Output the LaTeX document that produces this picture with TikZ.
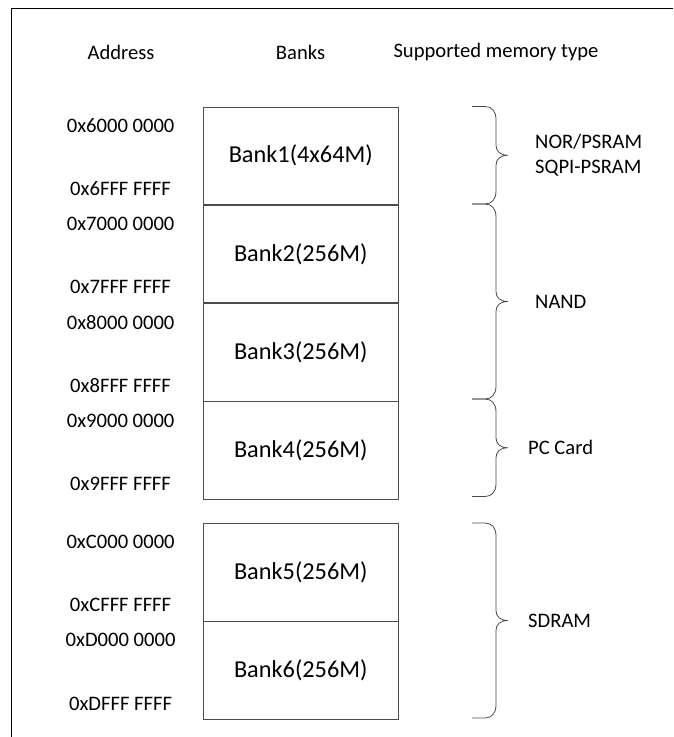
\documentclass[tikz,border=0pt]{standalone}
\usepackage{fontspec}
\setmainfont{Carlito}
\usetikzlibrary{positioning}

\tikzset{
    bank/.style={draw=black!70, line width=0.8pt, minimum width=194.5pt, minimum height=97.5pt,
        inner sep=0pt, font=\fontsize{24.3}{29}\selectfont},
    addr/.style={inner sep=0pt, font=\fontsize{20.6}{25}\selectfont},
    head/.style={inner sep=0pt, font=\fontsize{20.6}{25}\selectfont},
    memtype/.style={inner sep=0pt, align=left, font=\fontsize{20.6}{25}\selectfont},
    brace line/.style={draw=black!70, line width=0.8pt},
}

% curly brace from y=#1 (top) to y=#2 (bottom), tip named #3
\newcommand{\memBrace}[3]{%
    \pgfmathsetmacro{\bmid}{(#1+#2)/2}
    \draw[brace line] (472,#1) -- (485,#1) .. controls (492,#1) and (496,#1-5) .. (496,#1-13)
        -- (496,\bmid+10) .. controls (496,\bmid+4) and (500,\bmid) .. (508,\bmid)
        .. controls (500,\bmid) and (496,\bmid-4) .. (496,\bmid-10)
        -- (496,#2+13) .. controls (496,#2+5) and (492,#2) .. (485,#2) -- (472,#2);
    \coordinate (#3) at (508,\bmid);
}

\begin{document}
\begin{tikzpicture}[x=1pt, y=1pt]
    \useasboundingbox (0,0) rectangle (673,-737);

    % Frame
    \draw[line width=1pt] (673,-8.5) -- (11,-8.5) -- (11,-737);

    % Column titles
    \node[head] (hAddr) at (121,-52) {Address};
    \node[head] (hBanks) at (300.5,-52) {Banks};
    \node[head] (hType) at (496,-52) {Supported memory type};

    % Banks
    \node[bank, anchor=north] (b1) at (300.75,-106.5) {Bank1(4x64M)};
    \node[bank, below=0pt of b1] (b2) {Bank2(256M)};
    \node[bank, below=0pt of b2] (b3) {Bank3(256M)};
    \node[bank, below=0pt of b3] (b4) {Bank4(256M)};
    \node[bank, anchor=north] (b5) at (300.75,-523) {Bank5(256M)};
    \node[bank, below=0pt of b5] (b6) {Bank6(256M)};

    % Start and end addresses
    \foreach \b/\s in {b1/6, b2/7, b3/8, b4/9, b5/C, b6/D} {
        \node[addr] (\b-start) at ([xshift=-82.5pt, yshift=-19pt]\b.north west) {0x\s000 0000};
        \node[addr] (\b-end) at ([xshift=-82.5pt, yshift=16pt]\b.south west) {0x\s{}FFF FFFF};
    }

    % Memory types
    \memBrace{-106.5}{-204}{tNor}
    \memBrace{-204}{-399}{tNand}
    \memBrace{-399}{-496.5}{tPc}
    \memBrace{-523}{-718}{tSdram}

    \node[memtype, right=27pt of tNor] (nor) {NOR/PSRAM\\SQPI-PSRAM};
    \node[memtype, right=27pt of tNand] (nand) {NAND};
    \node[memtype, right=20pt of tPc] (pc) {PC Card};
    \node[memtype, right=20pt of tSdram] (sdram) {SDRAM};
\end{tikzpicture}
\end{document}
